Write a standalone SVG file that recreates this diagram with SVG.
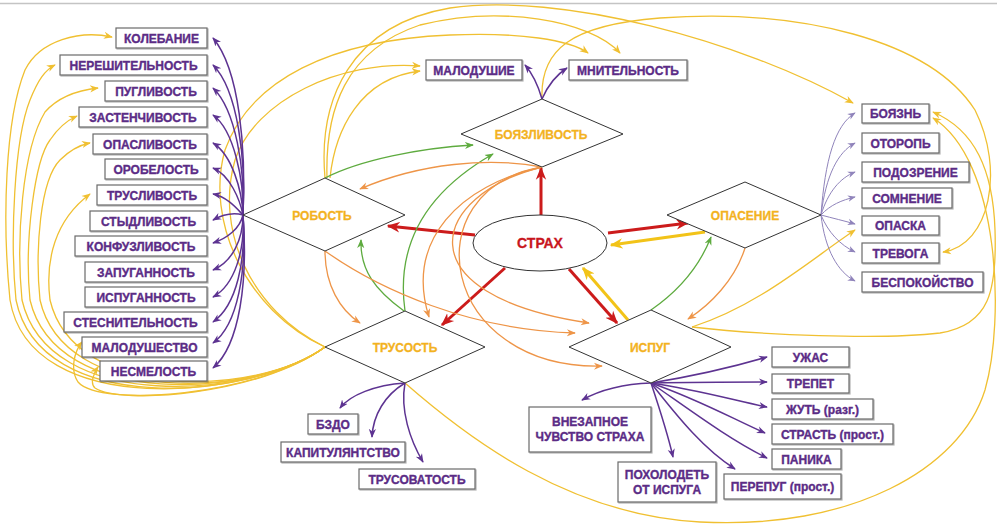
<svg xmlns="http://www.w3.org/2000/svg" width="997" height="528" viewBox="0 0 997 528">
<defs>
<style>
.bx{fill:#fff;stroke:#6a6a6a;stroke-width:1.2;filter:url(#sh)}
.bt{font-family:"Liberation Sans",Arial,sans-serif;font-weight:bold;font-size:12px;fill:#5b2c86;text-anchor:middle;stroke:#5b2c86;stroke-width:0.35}
.dm{fill:#fff;stroke:#333;stroke-width:1}
.dt{font-family:"Liberation Sans",Arial,sans-serif;font-weight:bold;font-size:12px;fill:#f3b21f;text-anchor:middle;stroke:#f3b21f;stroke-width:0.3}
.y{fill:none;stroke:#f0c032;stroke-width:1.3;marker-end:url(#my)}
.o{fill:none;stroke:#ee9548;stroke-width:1.3;marker-end:url(#mo)}
.g{fill:none;stroke:#5eab3f;stroke-width:1.3;marker-end:url(#mg)}
.r{fill:none;stroke:#cc1b1b;stroke-width:3;marker-end:url(#mr)}
.yt{fill:none;stroke:#f2c318;stroke-width:3;marker-end:url(#myt)}
.p{fill:none;stroke:#5d3391;stroke-width:1.5;marker-end:url(#mp)}
.lp{fill:none;stroke:#9084bb;stroke-width:1;marker-end:url(#mlp)}
</style>
<filter id="sh" x="-10%" y="-20%" width="125%" height="150%"><feDropShadow dx="1" dy="1" stdDeviation="0.7" flood-color="#000" flood-opacity="0.3"/></filter>
<marker id="my" viewBox="0 0 10 10" refX="9" refY="5" markerWidth="9" markerHeight="9" markerUnits="userSpaceOnUse" orient="auto"><path d="M0,1 L10,5 L0,9 L3,5 Z" fill="#f0c032"/></marker>
<marker id="mo" viewBox="0 0 10 10" refX="9" refY="5" markerWidth="9" markerHeight="9" markerUnits="userSpaceOnUse" orient="auto"><path d="M0,1 L10,5 L0,9 L3,5 Z" fill="#ee9548"/></marker>
<marker id="mg" viewBox="0 0 10 10" refX="9" refY="5" markerWidth="9" markerHeight="9" markerUnits="userSpaceOnUse" orient="auto"><path d="M0,1 L10,5 L0,9 L3,5 Z" fill="#5eab3f"/></marker>
<marker id="mr" viewBox="0 0 10 10" refX="9" refY="5" markerWidth="13" markerHeight="13" markerUnits="userSpaceOnUse" orient="auto"><path d="M0,1 L10,5 L0,9 L3,5 Z" fill="#cc1b1b"/></marker>
<marker id="myt" viewBox="0 0 10 10" refX="9" refY="5" markerWidth="13" markerHeight="13" markerUnits="userSpaceOnUse" orient="auto"><path d="M0,1 L10,5 L0,9 L3,5 Z" fill="#f2c318"/></marker>
<marker id="mp" viewBox="0 0 10 10" refX="9" refY="5" markerWidth="9" markerHeight="9" markerUnits="userSpaceOnUse" orient="auto"><path d="M0,1 L10,5 L0,9 L3,5 Z" fill="#5d3391"/></marker>
<marker id="mlp" viewBox="0 0 10 10" refX="9" refY="5" markerWidth="8" markerHeight="8" markerUnits="userSpaceOnUse" orient="auto"><path d="M0,1 L10,5 L0,9 L3,5 Z" fill="#9084bb"/></marker>
</defs>
<rect x="0" y="0" width="997" height="528" fill="#fff"/>
<line x1="0" y1="3.5" x2="997" y2="3.5" stroke="#c4c4c4" stroke-width="1.5"/>

<g id="connectors">
<!-- yellow left bundle from ТРУСОСТЬ -->
<path class="y" d="M325,347 C250,400 30,420 10,300 C2,220 5,120 25,70 C40,40 80,30 112,37"/>
<path class="y" d="M325,347 C252,400 40,418 16,300 C10,240 14,140 30,100 C38,80 45,70 55,65"/>
<path class="y" d="M325,347 C253,399 48,414 22,300 C16,240 22,150 45,112 C60,95 80,90 98,88"/>
<path class="y" d="M325,347 C254,398 56,410 30,300 C24,240 35,160 50,140 C58,128 68,120 77,116"/>
<path class="y" d="M325,347 C255,398 64,406 40,300 C35,250 40,180 60,160 C70,150 80,145 90,143"/>
<path class="y" d="M325,347 C256,397 74,402 50,300 C45,260 55,220 90,194"/>
<path class="y" d="M325,347 C258,396 100,408 78,382 C70,370 74,352 82,342"/>
<path class="y" d="M325,347 C260,395 120,405 95,388 C90,384 93,374 98,367"/>
<!-- yellow top curves -->
<path class="y" d="M325,347 C250,310 215,230 235,160 C255,100 340,60 420,66"/>
<path class="y" d="M325,347 C245,310 205,220 225,150 C250,80 330,40 450,35 C520,32 570,40 588,53"/>
<path class="y" d="M325,178 C318,100 350,25 450,8 C560,-8 740,40 853,103"/>
<path class="y" d="M327,178 C325,110 345,50 420,25 C500,5 590,20 620,53"/>
<path class="y" d="M330,178 C335,130 360,78 420,71"/>
<path class="y" d="M542,99 C540,50 570,25 660,18 C800,8 930,40 975,110 C1005,170 990,245 943,252"/>
<!-- yellow right/bottom curves -->
<path class="y" d="M692,327 C760,305 810,260 855,230"/>
<path class="y" d="M692,327 C760,335 880,340 940,333 C990,325 997,290 995,230 C993,170 975,130 933,112"/>
<path class="y" d="M405,383 C470,440 570,515 700,522 C850,530 960,470 985,390 C1005,320 1000,160 933,118"/>
<!-- thick yellow -->
<path class="yt" d="M705,232 L611,245"/>
<path class="yt" d="M628,320 L583,268"/>
<!-- red -->
<path class="r" d="M541,215 L541,168"/>
<path class="r" d="M475,235 L388,226"/>
<path class="r" d="M608,233 L688,223"/>
<path class="r" d="M505,268 L442,325"/>
<path class="r" d="M569,269 L617,323"/>
<!-- green -->
<path class="g" d="M325,178 C360,160 420,148 473,145"/>
<path class="g" d="M405,311 C395,240 430,190 493,154"/>
<path class="g" d="M404,311 C375,290 360,270 361,240"/>
<path class="g" d="M651,310 C680,290 700,265 711,237"/>
<!-- orange -->
<path class="o" d="M542,167 C490,157 420,163 360,189"/>
<path class="o" d="M542,167 C460,185 405,240 429,317"/>
<path class="o" d="M542,167 C430,195 400,295 589,323"/>
<path class="o" d="M542,167 C410,190 440,370 602,366"/>
<path class="o" d="M325,251 C325,285 340,310 360,323"/>
<path class="o" d="M325,251 C380,290 470,330 575,333"/>
<path class="o" d="M745,248 C735,280 710,305 688,319"/>
<!-- purple from РОБОСТЬ -->
<path class="p" d="M243,215 C246,150 240,70 213,38"/>
<path class="p" d="M243,215 C246,160 238,90 213,65"/>
<path class="p" d="M243,215 C245,170 236,110 213,88"/>
<path class="p" d="M243,215 C244,180 234,130 213,115"/>
<path class="p" d="M243,215 C242,190 232,155 213,143"/>
<path class="p" d="M243,215 C240,200 230,175 213,168"/>
<path class="p" d="M243,215 C238,210 228,197 213,194"/>
<path class="p" d="M243,215 C232,212 222,215 213,220"/>
<path class="p" d="M243,215 C240,228 228,238 213,243"/>
<path class="p" d="M243,215 C243,240 232,262 213,270"/>
<path class="p" d="M243,215 C245,250 235,285 213,297"/>
<path class="p" d="M243,215 C246,260 237,305 213,322"/>
<path class="p" d="M243,215 C247,270 238,325 213,343"/>
<path class="p" d="M243,215 C248,280 240,345 213,368"/>
<!-- purple from БОЯЗЛИВОСТЬ -->
<path class="p" d="M542,99 C538,85 532,73 525,65"/>
<path class="p" d="M542,99 C548,85 556,75 567,68"/>
<!-- light purple from ОПАСЕНИЕ -->
<path class="lp" d="M821,215 C825,160 835,125 855,113"/>
<path class="lp" d="M821,215 C826,175 838,152 855,143"/>
<path class="lp" d="M821,215 C828,192 840,178 855,172"/>
<path class="lp" d="M821,215 C830,205 842,200 855,197"/>
<path class="lp" d="M821,215 C832,218 845,221 855,224"/>
<path class="lp" d="M821,215 C828,232 840,245 855,252"/>
<path class="lp" d="M821,215 C825,250 838,272 855,281"/>
<!-- purple from ИСПУГ -->
<path class="p" d="M651,383 C700,375 740,365 767,357"/>
<path class="p" d="M651,383 C700,382 740,382 767,382"/>
<path class="p" d="M651,383 C700,390 740,402 767,407"/>
<path class="p" d="M651,383 C700,400 735,420 765,433"/>
<path class="p" d="M651,383 C690,410 730,440 767,458"/>
<path class="p" d="M651,383 C680,420 705,450 735,469"/>
<path class="p" d="M651,383 C660,410 668,435 673,457"/>
<path class="p" d="M651,383 C620,384 600,390 582,400"/>
<!-- purple from ТРУСОСТЬ -->
<path class="p" d="M405,383 C375,385 350,395 340,408"/>
<path class="p" d="M405,383 C385,395 373,415 372,437"/>
<path class="p" d="M405,383 C400,410 410,440 423,462"/>
</g>

<g id="strah"><ellipse cx="540" cy="243" rx="67" ry="28" fill="#fff" stroke="#333" stroke-width="1"/><text x="540" y="248" font-family="Liberation Sans, Arial, sans-serif" font-weight="bold" font-size="14" fill="#c8161d" stroke="#c8161d" stroke-width="0.3" text-anchor="middle">СТРАХ</text></g>
<g id="boyazlivost"><polygon class="dm" points="461,134 542,99 623,134 542,167"/><text class="dt" x="541" y="139">БОЯЗЛИВОСТЬ</text></g>
<g id="robost"><polygon class="dm" points="243,215 325,178 405,215 325,251"/><text class="dt" x="322" y="220">РОБОСТЬ</text></g>
<g id="opasenie"><polygon class="dm" points="667,215 745,182 821,215 745,248"/><text class="dt" x="745" y="220">ОПАСЕНИЕ</text></g>
<g id="trusost"><polygon class="dm" points="325,347 405,311 485,347 405,383"/><text class="dt" x="405" y="352">ТРУСОСТЬ</text></g>
<g id="ispug"><polygon class="dm" points="569,347 651,310 731,347 651,383"/><text class="dt" x="650" y="352">ИСПУГ</text></g>

<g id="n-kolebanie"><rect class="bx" x="116" y="28" width="91" height="20"/><text class="bt" x="161.5" y="42.5">КОЛЕБАНИЕ</text></g>
<g id="n-nereshitelnost"><rect class="bx" x="60" y="55" width="147" height="20"/><text class="bt" x="133.5" y="69.5">НЕРЕШИТЕЛЬНОСТЬ</text></g>
<g id="n-puglivost"><rect class="bx" x="105" y="81" width="102" height="20"/><text class="bt" x="156" y="95.5">ПУГЛИВОСТЬ</text></g>
<g id="n-zastenchivost"><rect class="bx" x="79" y="107" width="128" height="20"/><text class="bt" x="143" y="121.5">ЗАСТЕНЧИВОСТЬ</text></g>
<g id="n-opaslivost"><rect class="bx" x="93" y="134" width="114" height="20"/><text class="bt" x="150" y="148.5">ОПАСЛИВОСТЬ</text></g>
<g id="n-orobelost"><rect class="bx" x="105" y="159" width="102" height="20"/><text class="bt" x="156" y="173.5">ОРОБЕЛОСТЬ</text></g>
<g id="n-truslivost"><rect class="bx" x="97" y="185" width="110" height="20"/><text class="bt" x="152" y="199.5">ТРУСЛИВОСТЬ</text></g>
<g id="n-stydlivost"><rect class="bx" x="90" y="211" width="117" height="20"/><text class="bt" x="148.5" y="225.5">СТЫДЛИВОСТЬ</text></g>
<g id="n-konfuzlivost"><rect class="bx" x="75" y="236" width="132" height="20"/><text class="bt" x="141" y="250.5">КОНФУЗЛИВОСТЬ</text></g>
<g id="n-zapugannost"><rect class="bx" x="85" y="262" width="122" height="20"/><text class="bt" x="146" y="276.5">ЗАПУГАННОСТЬ</text></g>
<g id="n-ispugannost"><rect class="bx" x="85" y="287" width="122" height="20"/><text class="bt" x="146" y="301.5">ИСПУГАННОСТЬ</text></g>
<g id="n-stesnitelnost"><rect class="bx" x="64" y="312" width="143" height="20"/><text class="bt" x="135.5" y="326.5">СТЕСНИТЕЛЬНОСТЬ</text></g>
<g id="n-malodushestvo"><rect class="bx" x="82" y="337" width="125" height="20"/><text class="bt" x="144.5" y="351.5">МАЛОДУШЕСТВО</text></g>
<g id="n-nesmelost"><rect class="bx" x="100" y="361" width="107" height="20"/><text class="bt" x="153.5" y="375.5">НЕСМЕЛОСТЬ</text></g>

<g id="n-malodushie"><rect class="bx" x="426" y="60" width="96" height="20"/><text class="bt" x="474" y="74.5">МАЛОДУШИЕ</text></g>
<g id="n-mnitelnost"><rect class="bx" x="569" y="60" width="118" height="20"/><text class="bt" x="628" y="74.5">МНИТЕЛЬНОСТЬ</text></g>

<g id="n-boyazn"><rect class="bx" x="862" y="104" width="67" height="19"/><text class="bt" x="895.5" y="118">БОЯЗНЬ</text></g>
<g id="n-otoropj"><rect class="bx" x="862" y="133" width="77" height="20"/><text class="bt" x="900.5" y="147.5">ОТОРОПЬ</text></g>
<g id="n-podozrenie"><rect class="bx" x="862" y="162" width="107" height="20"/><text class="bt" x="915.5" y="176.5">ПОДОЗРЕНИЕ</text></g>
<g id="n-somnenie"><rect class="bx" x="862" y="188" width="90" height="20"/><text class="bt" x="907" y="202.5">СОМНЕНИЕ</text></g>
<g id="n-opaska"><rect class="bx" x="862" y="216" width="77" height="19"/><text class="bt" x="900.5" y="230">ОПАСКА</text></g>
<g id="n-trevoga"><rect class="bx" x="862" y="243" width="77" height="20"/><text class="bt" x="900.5" y="257.5">ТРЕВОГА</text></g>
<g id="n-bespokoystvo"><rect class="bx" x="862" y="272" width="121" height="20"/><text class="bt" x="922.5" y="286.5">БЕСПОКОЙСТВО</text></g>

<g id="n-uzhas"><rect class="bx" x="772" y="347" width="77" height="20"/><text class="bt" x="810.5" y="361.5">УЖАС</text></g>
<g id="n-trepet"><rect class="bx" x="772" y="374" width="77" height="19"/><text class="bt" x="810.5" y="388">ТРЕПЕТ</text></g>
<g id="n-zhut"><rect class="bx" x="772" y="399" width="101" height="20"/><text class="bt" x="822.5" y="413.5">ЖУТЬ (разг.)</text></g>
<g id="n-strast"><rect class="bx" x="772" y="424" width="121" height="20"/><text class="bt" x="832.5" y="438.5">СТРАСТЬ (прост.)</text></g>
<g id="n-panika"><rect class="bx" x="772" y="449" width="69" height="20"/><text class="bt" x="806.5" y="463.5">ПАНИКА</text></g>
<g id="n-perepug"><rect class="bx" x="724" y="474" width="117" height="25"/><text class="bt" x="782.5" y="491">ПЕРЕПУГ (прост.)</text></g>
<g id="n-pokholodet"><rect class="bx" x="618" y="462" width="98" height="40"/><text class="bt" x="667" y="479">ПОХОЛОДЕТЬ</text><text class="bt" x="667" y="494">ОТ ИСПУГА</text></g>
<g id="n-vnezapnoe"><rect class="bx" x="529" y="407" width="122" height="45"/><text class="bt" x="590" y="426">ВНЕЗАПНОЕ</text><text class="bt" x="590" y="441">ЧУВСТВО СТРАХА</text></g>

<g id="n-bzdo"><rect class="bx" x="308" y="414" width="50" height="20"/><text class="bt" x="333" y="428.5">БЗДО</text></g>
<g id="n-kapitulyantstvo"><rect class="bx" x="281" y="442" width="124" height="20"/><text class="bt" x="343" y="456.5">КАПИТУЛЯНТСТВО</text></g>
<g id="n-trusovatost"><rect class="bx" x="359" y="469" width="116" height="20"/><text class="bt" x="417" y="483.5">ТРУСОВАТОСТЬ</text></g>
</svg>
